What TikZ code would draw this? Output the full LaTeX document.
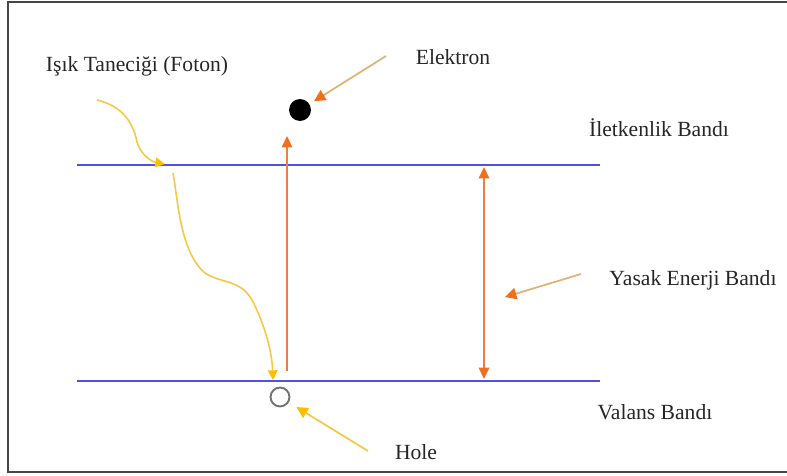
\documentclass[tikz,border=0pt]{standalone}
\usepackage{fontspec}
\setmainfont{Liberation Serif}
\usepackage{xcolor}
\usetikzlibrary{arrows.meta, positioning}

\definecolor{bandblue}{RGB}{80,80,230}
\definecolor{gaporange}{RGB}{232,128,64}
\definecolor{tiporange}{RGB}{240,110,30}
\definecolor{pointtan}{RGB}{222,178,120}
\definecolor{photonyel}{RGB}{245,200,70}
\definecolor{tipyel}{RGB}{255,190,0}
\definecolor{framegray}{RGB}{70,70,70}

\begin{document}
\begin{tikzpicture}[
  x=0.02cm, y=-0.02cm,
  lbl/.style={font=\fontsize{12.3}{14}\selectfont, inner sep=0pt, text=black!85},
  band/.style={bandblue, line width=1.2pt},
  gap/.style={gaporange, line width=0.8pt,
    -{Triangle[length=6.5pt, width=6pt, color=tiporange]}},
  gapboth/.style={gaporange, line width=0.8pt,
    {Triangle[length=6.5pt, width=6pt, color=tiporange]}-{Triangle[length=6.5pt, width=6pt, color=tiporange]}},
  pointer/.style={pointtan, line width=1pt,
    -{Triangle[length=6.5pt, width=6.5pt, color=tiporange]}},
  holeptr/.style={photonyel, line width=1pt, shorten >=5pt,
    -{Triangle[length=6.5pt, width=6.5pt, color=tipyel]}},
  photon/.style={photonyel, line width=0.9pt,
    -{Triangle[length=5.5pt, width=5.5pt, color=tipyel]}}
]
\useasboundingbox (0,0) rectangle (787,476);

% ---- Frame ----
\draw[framegray, line width=1.2pt] (787,2) -- (8,2) -- (8,472) -- (787,472);

% ---- Bands ----
\coordinate (cbL) at (77,165);
\coordinate (cbR) at (600,165);
\coordinate (vbL) at (77,381);
\coordinate (vbR) at (600,381);
\draw[band] (cbL) -- (cbR);
\draw[band] (vbL) -- (vbR);

% ---- Particles ----
\node[circle, fill=black, minimum size=22pt*0.567, inner sep=0pt] (elec) at (300,110) {};
\node[circle, draw=black!55, line width=1.1pt, fill=white,
      minimum size=19pt*0.567, inner sep=0pt] (hole) at (280,397) {};

% ---- Labels ----
\node[lbl] (foton)  at (137,66)  {Işık Taneciği (Foton)};
\node[lbl] (elabel) at (453,57)  {Elektron};
\node[lbl] (iband)  at (659,128) {İletkenlik Bandı};
\node[lbl] (yband)  at (693,280) {Yasak Enerji Bandı};
\node[lbl] (vband)  at (655,412) {Valans Bandı};
\node[lbl] (hlabel) at (416,452) {Hole};

% ---- Gap arrows ----
\coordinate (exBot) at (287,371);
\coordinate (exTop) at (287,136);
\coordinate (gapTop) at (484,167);
\coordinate (gapBot) at (484,379);
\draw[gap] (exBot) -- (exTop);
\draw[gapboth] (gapTop) -- (gapBot);

% ---- Pointers ----
\coordinate (eptr) at (386,56);
\coordinate (yptr) at (581,274);
\coordinate (ytip) at (505,297);
\coordinate (hptr) at (368,451);
\draw[pointer, shorten >=3pt] (eptr) -- (elec);
\draw[pointer] (yptr) -- (ytip);
\draw[holeptr] (hptr) -- (hole);

% ---- Photon ----
\coordinate (ph0) at (97,100);
\coordinate (ph1) at (165,164);
\coordinate (ph2) at (173,173);
\coordinate (ph3) at (273,380);
\draw[photon] (ph0) .. controls (122,106) and (133,122) .. (137,142)
  .. controls (141,156) and (153,162) .. (ph1);
\draw[photon] (ph2) .. controls (178,200) and (180,252) .. (205,273)
  .. controls (222,284) and (240,279) .. (252,300)
  .. controls (265,325) and (272,352) .. (ph3);

\end{tikzpicture}
\end{document}
